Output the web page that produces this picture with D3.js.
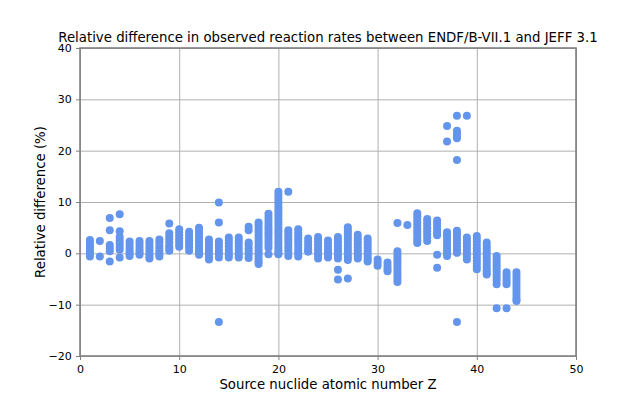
<!DOCTYPE html>
<html>
<head>
<meta charset="utf-8">
<script src="https://cdn.jsdelivr.net/npm/d3@7"></script>
<style>
  html, body { margin: 0; padding: 0; background: #fff; }
  svg text { font-family: "DejaVu Sans", sans-serif; fill: #000; }
</style>
</head>
<body>
<div id="chart"></div>
<script>
/* Relative difference per source nuclide Z: scatter of dots, matplotlib look. */
const sourceZ = [1, 2, 3, 4, 5, 6, 7, 8, 9, 10, 11, 12, 13, 14, 15, 16, 17, 18, 19, 20, 21, 22,
  23, 24, 25, 26, 27, 28, 29, 30, 31, 32, 33, 34, 35, 36, 37, 38, 39, 40, 41, 42, 43, 44];

// relative difference (%) of each reaction rate, one list per Z
const relDiff = [
  [2.6, 2.0, 1.4, 0.9, 0.4, 0.0, -0.6],
  [2.4, -0.6],
  [6.9, 4.5, 1.6, 1.0, 0.4, -1.6],
  [7.6, 4.3, 3.2, 2.5, 1.9, 1.3, 0.7, -0.8],
  [2.3, 1.7, 1.1, 0.5, 0.0, -0.5],
  [2.4, 1.8, 1.2, 0.6, 0.1, -0.3],
  [2.4, 1.8, 1.2, 0.6, 0.0, -0.5, -1.0],
  [2.7, 2.1, 1.5, 0.9, 0.3, -0.2, -0.6],
  [5.8, 3.9, 3.3, 2.7, 2.1, 1.5, 1.0, 0.5],
  [4.7, 4.1, 3.5, 2.9, 2.4, 1.8, 1.3],
  [4.2, 3.6, 3.0, 2.4, 1.8, 1.2, 0.5],
  [5.0, 4.4, 3.8, 3.2, 2.6, 2.0, 1.4, 0.8, 0.2, -0.3],
  [2.7, 2.1, 1.5, 0.9, 0.3, -0.3, -0.8, -1.2],
  [9.9, 6.0, 2.3, 1.7, 1.1, 0.5, -0.1, -0.8, -13.4],
  [3.1, 2.5, 1.9, 1.3, 0.7, 0.1, -0.4, -0.8],
  [3.1, 2.5, 1.9, 1.3, 0.7, 0.1, -0.4, -0.8],
  [5.2, 4.5, 2.1, 1.6, 1.0, 0.4, -0.2, -0.9],
  [6.0, 5.4, 4.8, 4.2, 3.6, 3.0, 2.4, 1.8, 1.2, 0.6, 0.0, -0.6, -1.2, -1.7, -2.1],
  [7.7, 7.1, 6.5, 5.9, 5.3, 4.7, 4.1, 3.5, 2.9, 2.3, 1.7, 1.1, -0.2],
  [12.0, 11.4, 10.8, 10.2, 9.6, 9.0, 8.4, 7.8, 7.2, 6.6, 6.0, 5.4, 4.8, 4.2, 3.6, 3.0, 2.4, 1.8, 1.2, 0.6, 0.0, -0.2],
  [12.0, 4.5, 3.9, 3.3, 2.7, 2.1, 1.5, 0.9, 0.3, -0.5],
  [4.7, 4.1, 3.5, 2.9, 2.3, 1.7, 1.1, 0.5, 0.0, -0.6],
  [2.9, 2.3, 1.7, 1.1, 0.6, 0.3],
  [3.2, 2.6, 2.0, 1.4, 0.8, 0.2, -0.4, -1.0],
  [2.5, 1.9, 1.3, 0.7, 0.1, -0.4, -0.8],
  [3.2, 2.6, 2.0, 1.4, 0.8, 0.2, -0.4, -1.0, -3.2, -5.1],
  [5.1, 4.5, 3.9, 3.3, 2.7, 2.1, 1.5, 0.9, 0.3, -0.3, -0.8, -1.3, -4.9],
  [3.6, 3.0, 2.4, 1.8, 1.2, 0.6, 0.0, -0.5, -1.0],
  [2.9, 2.3, 1.7, 1.1, 0.5, -0.1, -0.7, -1.2, -1.6],
  [-1.2, -1.8, -2.4],
  [-1.8, -2.4, -3.0, -3.5],
  [5.9, 0.4, -0.2, -0.8, -1.4, -2.0, -2.6, -3.2, -3.8, -4.4, -5.0, -5.6],
  [5.5],
  [7.8, 7.2, 6.6, 6.0, 5.4, 4.8, 4.2, 3.6, 3.0, 2.5, 2.0],
  [6.7, 6.1, 5.5, 4.9, 4.3, 3.7, 3.1, 2.4],
  [6.4, 5.8, 5.2, 4.6, 4.0, 3.5, -0.3, -2.8],
  [24.8, 21.8, 4.1, 3.5, 2.9, 2.3, 1.7, 1.1, 0.5, 0.0, -0.5],
  [26.8, 23.9, 23.3, 22.8, 22.4, 18.2, 4.4, 3.8, 3.2, 2.6, 2.0, 1.4, 0.8, 0.1, -13.4],
  [26.8, 3.1, 2.5, 1.9, 1.3, 0.7, 0.1, -0.5, -1.2],
  [3.4, 2.8, 2.2, 1.6, 1.0, 0.4, -0.2, -0.8, -1.4, -2.0, -2.6, -3.1],
  [2.1, 1.5, 0.9, 0.3, -0.3, -0.9, -1.5, -2.1, -2.7, -3.3, -3.8, -4.1],
  [-0.5, -1.1, -1.7, -2.3, -2.9, -3.5, -4.1, -4.7, -5.3, -6.0, -10.7],
  [-3.7, -4.3, -4.9, -5.5, -6.0, -10.7],
  [-3.7, -4.3, -4.9, -5.5, -6.1, -6.7, -7.3, -7.9, -8.5, -9.0, -9.3]
];

const xTicks = [0, 10, 20, 30, 40, 50];
const yTicks = [-20, -10, 0, 10, 20, 30, 40];

const titleText = "Relative difference in observed reaction rates between ENDF/B-VII.1 and JEFF 3.1";
const xLabel = "Source nuclide atomic number Z";
const yLabel = "Relative difference (%)";

const W = 640, H = 400;
const m = { t: 48, r: 64, b: 44, l: 80 };
const points = sourceZ.flatMap((z, i) => relDiff[i].map(v => ({ z, v })));

const svg = d3.select("#chart").append("svg")
  .attr("width", W).attr("height", H).attr("viewBox", `0 0 ${W} ${H}`);

const x = d3.scaleLinear().domain([0, 50]).range([m.l, W - m.r]);
const y = d3.scaleLinear().domain([-20, 40]).range([H - m.b, m.t]);

const fmt = d => (d < 0 ? "\u2212" + Math.abs(d) : String(d));

// grid
svg.append("g").attr("transform", `translate(0,${H - m.b})`)
  .call(d3.axisBottom(x).tickValues(xTicks).tickSize(-(H - m.t - m.b)).tickFormat(""))
  .call(g => g.select(".domain").remove())
  .call(g => g.selectAll("line").attr("stroke", "#b0b0b0").attr("stroke-width", 1));
svg.append("g").attr("transform", `translate(${m.l},0)`)
  .call(d3.axisLeft(y).tickValues(yTicks).tickSize(-(W - m.l - m.r)).tickFormat(""))
  .call(g => g.select(".domain").remove())
  .call(g => g.selectAll("line").attr("stroke", "#b0b0b0").attr("stroke-width", 1));

// dots
svg.append("g").selectAll("circle").data(points).join("circle")
  .attr("cx", d => x(d.z))
  .attr("cy", d => y(d.v))
  .attr("r", 4)
  .attr("fill", "#6495ed");

// frame
svg.append("rect")
  .attr("x", m.l).attr("y", m.t)
  .attr("width", W - m.l - m.r).attr("height", H - m.t - m.b)
  .attr("fill", "none").attr("stroke", "#808080").attr("stroke-width", 1.6);

// axes with ticks
const ax = svg.append("g").attr("transform", `translate(0,${H - m.b})`)
  .call(d3.axisBottom(x).tickValues(xTicks).tickSize(4).tickPadding(5).tickFormat(fmt));
const ay = svg.append("g").attr("transform", `translate(${m.l},0)`)
  .call(d3.axisLeft(y).tickValues(yTicks).tickSize(4).tickPadding(4.3).tickFormat(fmt));
[ax, ay].forEach(g => {
  g.select(".domain").remove();
  g.selectAll("line").attr("stroke", "#808080").attr("stroke-width", 1);
  g.selectAll("text").attr("font-size", 11).attr("fill", "#000")
    .style("font-family", "DejaVu Sans, sans-serif");
});

svg.append("text")
  .attr("x", (m.l + W - m.r) / 2).attr("y", 42)
  .attr("text-anchor", "middle").attr("font-size", 13.3)
  .text(titleText);

svg.append("text")
  .attr("x", (m.l + W - m.r) / 2).attr("y", 388.5)
  .attr("text-anchor", "middle").attr("font-size", 13.3)
  .text(xLabel);

svg.append("text")
  .attr("transform", `translate(44.5,${(m.t + H - m.b) / 2}) rotate(-90)`)
  .attr("text-anchor", "middle").attr("font-size", 13.3)
  .text(yLabel);
</script>
</body>
</html>
